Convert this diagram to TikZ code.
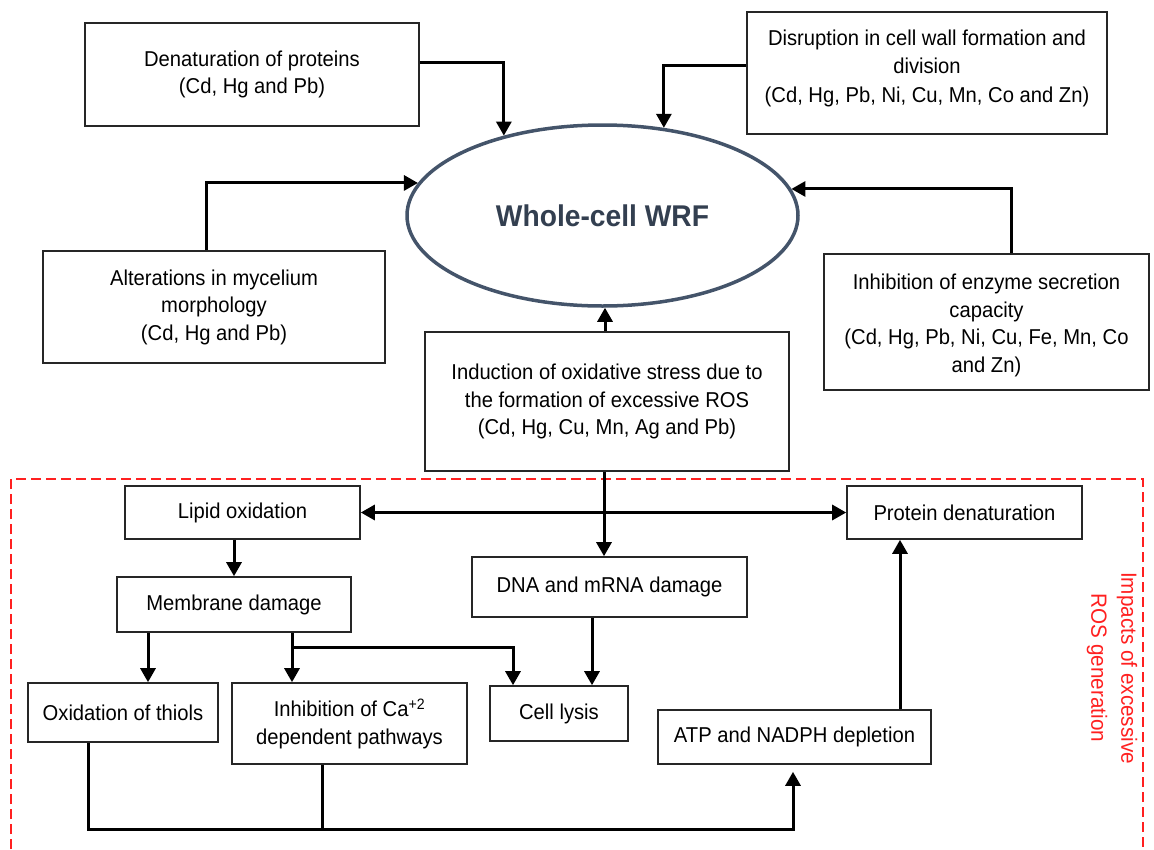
\documentclass[tikz,border=0pt]{standalone}
\usepackage{fontspec}
\setmainfont{Liberation Sans}[FakeStretch=0.94]
\usetikzlibrary{arrows.meta,shapes.geometric}
\definecolor{wrfline}{HTML}{44546A}
\definecolor{wrftext}{HTML}{333F50}
\definecolor{boxline}{HTML}{262626}
\definecolor{rosred}{HTML}{FF2020}

\tikzset{
  box/.style={draw=boxline, line width=1.6pt, align=center, inner sep=0pt,
    font=\fontsize{21.5}{27.5}\selectfont},
  conn/.style={line width=3pt, black},
  arr/.style={conn, ->},
}

\begin{document}
\begin{tikzpicture}[>={Triangle[length=14pt,width=15pt]}, x=1pt, y=-1pt]
\useasboundingbox (0,0) rectangle (1154,849);

\node[ellipse, draw=wrfline, line width=3.5pt, minimum width=391pt, minimum height=181pt,
  inner sep=0pt, text=wrftext, font=\fontsize{30}{34}\selectfont\bfseries] (wrf) at (602.5,215.5) {Whole-cell WRF};

\node[box, minimum width=334pt, minimum height=103pt] (den) at (252,74.5)
  {Denaturation of proteins\\(Cd, Hg and Pb)};
\node[box, minimum width=360pt, minimum height=122pt, font=\fontsize{21.5}{28.5}\selectfont] (disr) at (927,73)
  {Disruption in cell wall formation and\\division\\(Cd, Hg, Pb, Ni, Cu, Mn, Co and Zn)\rule[-14pt]{0pt}{0pt}};
\node[box, minimum width=342pt, minimum height=112pt] (alt) at (214,307)
  {Alterations in mycelium\\morphology\\(Cd, Hg and Pb)};
\node[box, minimum width=325pt, minimum height=136pt] (inh) at (986.5,322)
  {\rule{0pt}{22pt}Inhibition of enzyme secretion\\capacity\\(Cd, Hg, Pb, Ni, Cu, Fe, Mn, Co\\and Zn)};
\node[box, minimum width=364pt, minimum height=139pt] (ind) at (607,401.5)
  {Induction of oxidative stress due to\\the formation of excessive ROS\\(Cd, Hg, Cu, Mn, Ag and Pb)};

\node[box, minimum width=235pt, minimum height=53pt] (lip) at (242.5,512.5) {Lipid oxidation};
\node[box, minimum width=235pt, minimum height=53pt] (prot) at (964.5,512.5) {Protein denaturation};
\node[box, minimum width=234pt, minimum height=55pt] (mem) at (234,604.5) {Membrane damage};
\node[box, minimum width=275pt, minimum height=60pt] (dna) at (609.5,587) {DNA and mRNA damage};
\node[box, minimum width=190pt, minimum height=59pt] (thio) at (123,712.5) {Oxidation of thiols};
\node[box, minimum width=235pt, minimum height=81pt] (ca) at (349.5,723.5)
  {Inhibition of Ca\textsuperscript{+2}\\dependent pathways};
\node[box, minimum width=138pt, minimum height=55pt] (lys) at (559,713.5) {Cell lysis};
\node[box, minimum width=273pt, minimum height=54pt] (atp) at (794.5,737) {ATP and NADPH depletion};

\draw[rosred, line width=1.3pt, dash pattern=on 10pt off 5pt] (11,849) |- (1143,479) -- (1143,849);
\node[rotate=-90, text=rosred, align=center, font=\fontsize{22}{30}\selectfont] (roslabel) at (1112,668)
  {Impacts of excessive\\ROS generation};

\draw[arr] ([yshift=12.5pt]den.east) -| (wrf.141.2);
\draw[arr] ([yshift=8pt]disr.west) -| (wrf.55.4);
\draw[arr] ([xshift=-8pt]alt.north) |- (wrf.170.25);
\draw[arr] ([xshift=24.5pt]inh.north) |- (wrf.8.73);
\draw[arr] ([xshift=-2pt]ind.north) -- ([xshift=-2pt]ind.north |- wrf.south);
\draw[arr] ([xshift=-3pt]ind.south) -- ([xshift=-3pt]ind.south |- dna.north);
\draw[conn, <->] (lip.east) -- (prot.west);

\draw[arr] (mem.north |- lip.south) -- (mem.north);
\draw[arr] ([xshift=-86pt]mem.south) -- ([xshift=-86pt]mem.south |- thio.north);
\draw[arr] ([xshift=58pt]mem.south) -- ([xshift=58pt]mem.south |- ca.north);
\draw[arr] ([xshift=58pt,yshift=-15pt]mem.south) -| ([xshift=-46pt]lys.north);
\draw[arr] ([xshift=-17.5pt]dna.south) -- ([xshift=-17.5pt]dna.south |- lys.north);

\coordinate (bus) at (793,829);
\draw[arr, shorten >=7pt] ([xshift=-35pt]thio.south) |- (bus) -- (bus |- atp.south);
\draw[conn] ([xshift=-27.5pt]ca.south) -- ([xshift=-27.5pt]ca.south |- bus);
\draw[arr] ([xshift=105.5pt]atp.north) -- ([xshift=105.5pt]atp.north |- prot.south);
\end{tikzpicture}
\end{document}
